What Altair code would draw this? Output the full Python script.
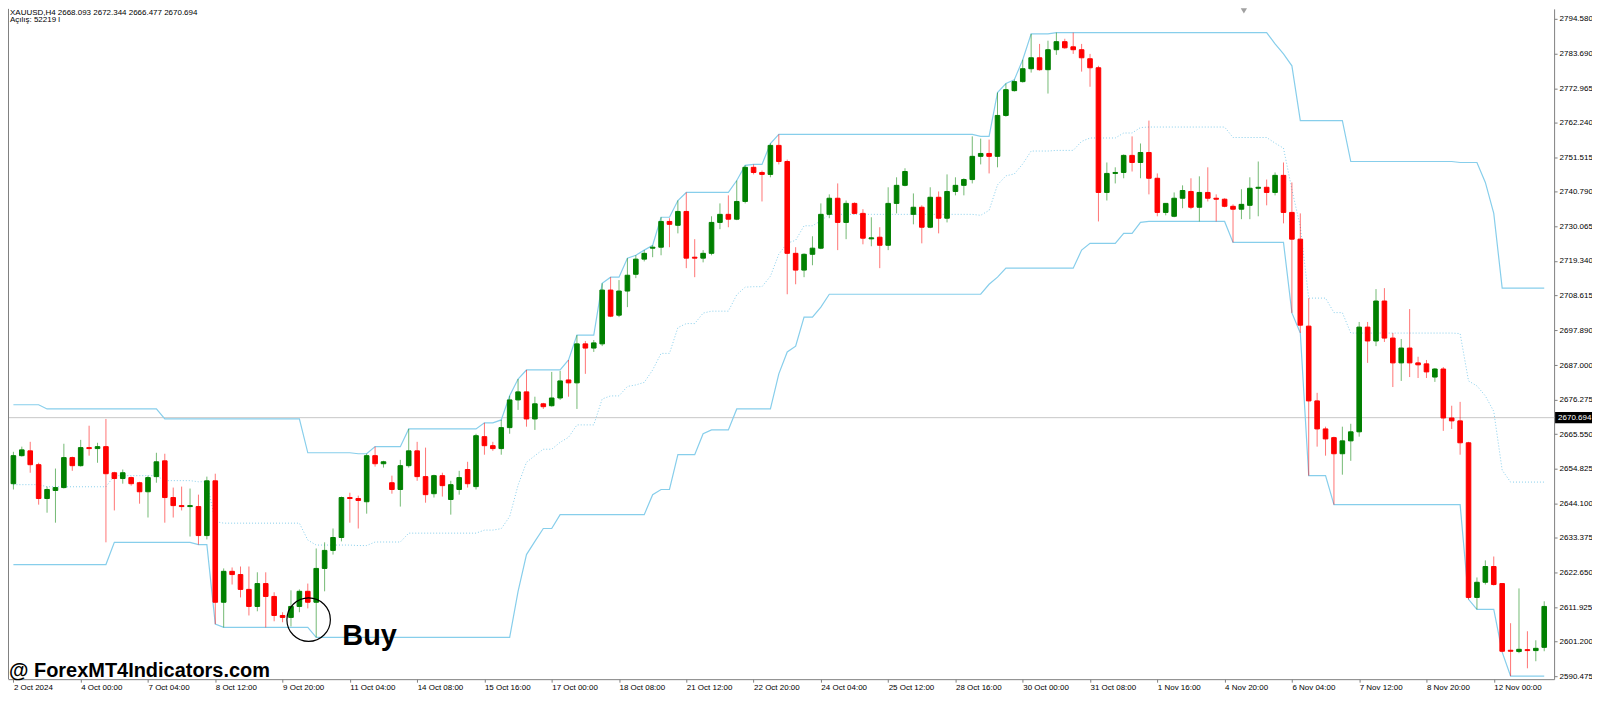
import altair as alt

# ---- candle data (XAUUSD H4), index 0 = 2 Oct 16:00 ----
OPEN = [2650.2, 2658.9, 2660.4, 2656.1, 2645.6, 2648.1, 2649.0, 2658.3, 2655.8, 2661.4,
        2661.1, 2661.7, 2653.6, 2651.8, 2652.1, 2650.5, 2647.7, 2652.4, 2657.3, 2645.9,
        2643.4, 2643.1, 2643.1, 2634.1, 2651.1, 2613.4, 2623.0, 2622.0, 2617.4, 2612.1,
        2619.2, 2615.2, 2609.3, 2608.7, 2612.1, 2616.8, 2613.4, 2623.9, 2629.5, 2633.5,
        2645.9, 2645.6, 2644.6, 2658.9, 2656.4, 2650.5, 2648.4, 2655.8, 2660.4, 2652.4,
        2647.1, 2652.7, 2645.3, 2648.4, 2654.6, 2649.3, 2664.8, 2662.0, 2661.1, 2667.6,
        2676.2, 2678.7, 2670.3, 2675.0, 2674.4, 2676.8, 2682.4, 2681.5, 2693.6, 2692.3,
        2693.6, 2710.3, 2702.5, 2710.0, 2715.2, 2719.9, 2723.3, 2723.6, 2731.6, 2730.4,
        2734.7, 2720.5, 2720.2, 2721.7, 2731.3, 2733.8, 2732.3, 2737.8, 2748.4, 2746.8,
        2746.2, 2755.2, 2750.2, 2721.7, 2716.5, 2721.4, 2723.3, 2733.8, 2738.8, 2731.3,
        2737.2, 2734.1, 2726.2, 2726.7, 2724.2, 2737.2, 2742.8, 2733.8, 2736.0, 2729.8,
        2739.1, 2732.6, 2740.9, 2742.8, 2744.6, 2751.8, 2752.7, 2751.8, 2764.5, 2772.2,
        2775.0, 2779.0, 2782.4, 2778.7, 2784.9, 2787.4, 2785.8, 2784.9, 2782.1, 2779.3,
        2740.6, 2746.5, 2746.8, 2752.1, 2749.9, 2753.0, 2745.0, 2734.4, 2733.2, 2738.8,
        2740.9, 2736.0, 2740.6, 2738.8, 2738.5, 2736.3, 2735.4, 2736.6, 2741.9, 2742.2,
        2740.6, 2745.9, 2734.4, 2726.1, 2699.1, 2675.9, 2667.2, 2664.5, 2659.5, 2663.5,
        2666.3, 2698.8, 2694.5, 2706.9, 2695.4, 2687.7, 2692.3, 2687.7, 2687.4, 2683.3,
        2685.8, 2670.6, 2669.7, 2662.9, 2614.9, 2619.6, 2624.5, 2619.2, 2598.5, 2598.1,
        2598.7, 2598.4, 2599.4]
HIGH = [2660.1, 2661.7, 2663.2, 2656.7, 2649.3, 2654.9, 2662.6, 2658.6, 2663.8, 2668.2,
        2662.9, 2670.3, 2653.9, 2654.6, 2652.4, 2650.8, 2652.7, 2659.8, 2659.5, 2649.0,
        2649.3, 2648.7, 2646.8, 2652.4, 2653.3, 2623.9, 2624.2, 2624.5, 2624.5, 2622.7,
        2622.7, 2616.5, 2610.3, 2617.1, 2617.4, 2619.2, 2630.1, 2632.0, 2636.3, 2646.2,
        2647.4, 2646.5, 2659.5, 2661.7, 2657.3, 2652.7, 2657.6, 2667.2, 2663.2, 2661.4,
        2653.0, 2653.6, 2651.1, 2654.2, 2657.0, 2665.7, 2669.1, 2663.2, 2670.0, 2677.5,
        2682.7, 2685.5, 2677.2, 2675.3, 2684.9, 2685.2, 2688.6, 2696.3, 2694.5, 2694.8,
        2712.4, 2714.3, 2713.4, 2720.2, 2721.1, 2722.7, 2724.2, 2732.9, 2732.6, 2738.1,
        2740.6, 2726.1, 2722.7, 2733.2, 2737.2, 2739.7, 2744.3, 2749.0, 2749.3, 2747.4,
        2755.8, 2758.6, 2750.8, 2723.6, 2721.7, 2727.0, 2737.2, 2740.0, 2743.4, 2738.1,
        2737.5, 2735.4, 2732.9, 2729.8, 2742.2, 2745.3, 2748.1, 2740.3, 2736.6, 2742.2,
        2740.9, 2746.2, 2745.3, 2745.0, 2758.0, 2757.3, 2757.0, 2771.6, 2774.4, 2775.6,
        2781.8, 2789.8, 2786.7, 2787.7, 2790.2, 2788.3, 2790.2, 2786.7, 2783.6, 2779.9,
        2749.9, 2748.4, 2752.4, 2758.0, 2755.8, 2762.9, 2746.5, 2737.2, 2740.6, 2742.8,
        2745.0, 2745.6, 2748.4, 2740.0, 2738.8, 2736.9, 2741.6, 2745.3, 2750.2, 2744.6,
        2746.8, 2749.9, 2743.7, 2734.1, 2707.8, 2678.4, 2667.9, 2664.8, 2667.9, 2668.8,
        2700.4, 2700.4, 2710.6, 2710.9, 2697.0, 2695.1, 2704.4, 2689.6, 2688.6, 2686.1,
        2686.4, 2674.4, 2675.6, 2663.2, 2621.1, 2626.4, 2627.6, 2619.2, 2606.9, 2617.7,
        2604.4, 2601.6, 2613.7]
LOW = [2648.4, 2658.6, 2653.6, 2643.7, 2641.2, 2638.1, 2648.7, 2654.2, 2655.5, 2658.9,
       2656.7, 2632.0, 2641.9, 2650.2, 2649.6, 2644.0, 2639.7, 2650.5, 2638.1, 2639.7,
       2641.9, 2633.8, 2631.3, 2632.9, 2606.6, 2605.6, 2618.9, 2614.9, 2609.3, 2610.6,
       2605.6, 2607.5, 2607.2, 2605.9, 2610.3, 2611.5, 2602.5, 2616.8, 2628.2, 2632.3,
       2638.1, 2636.3, 2640.9, 2655.5, 2655.2, 2647.1, 2643.1, 2655.2, 2651.1, 2644.3,
       2645.9, 2646.2, 2640.6, 2646.8, 2649.0, 2648.4, 2659.2, 2660.4, 2659.2, 2665.7,
       2673.1, 2667.9, 2666.9, 2673.4, 2674.1, 2676.2, 2677.2, 2673.4, 2684.3, 2691.1,
       2692.9, 2701.9, 2701.9, 2705.0, 2714.0, 2719.2, 2720.5, 2721.1, 2723.6, 2727.9,
       2717.1, 2714.3, 2718.9, 2721.1, 2729.2, 2729.8, 2732.0, 2737.2, 2746.2, 2737.8,
       2745.3, 2749.3, 2709.0, 2712.1, 2714.3, 2718.0, 2723.0, 2732.6, 2722.7, 2726.1,
       2733.8, 2724.5, 2723.9, 2717.1, 2722.7, 2734.1, 2742.5, 2730.7, 2724.8, 2729.5,
       2727.9, 2731.3, 2739.7, 2739.7, 2743.4, 2749.3, 2746.5, 2748.4, 2764.1, 2771.9,
       2774.7, 2777.8, 2778.4, 2771.3, 2783.3, 2785.2, 2783.6, 2778.1, 2773.4, 2731.6,
       2738.1, 2743.4, 2745.0, 2747.1, 2745.0, 2740.0, 2733.2, 2733.5, 2732.9, 2735.7,
       2735.4, 2731.6, 2737.8, 2731.6, 2736.0, 2725.1, 2732.3, 2732.3, 2733.2, 2736.6,
       2739.7, 2731.0, 2703.2, 2697.0, 2652.7, 2661.7, 2658.9, 2643.7, 2653.0, 2657.3,
       2664.8, 2687.7, 2692.9, 2694.2, 2680.2, 2682.1, 2683.3, 2683.0, 2683.0, 2681.8,
       2666.6, 2667.2, 2659.2, 2614.3, 2611.2, 2618.9, 2618.6, 2597.9, 2590.5, 2597.6,
       2592.9, 2595.1, 2598.2]
CLOSE = [2658.9, 2660.7, 2656.1, 2645.6, 2648.4, 2649.0, 2658.3, 2655.8, 2661.4, 2661.1,
         2661.7, 2653.3, 2651.8, 2653.6, 2650.2, 2647.7, 2652.1, 2657.0, 2645.9, 2643.4,
         2643.1, 2643.4, 2634.1, 2651.1, 2613.4, 2623.0, 2622.0, 2617.4, 2612.1, 2619.2,
         2615.2, 2609.3, 2608.7, 2612.1, 2616.8, 2613.4, 2623.9, 2629.5, 2633.5, 2645.9,
         2645.6, 2645.0, 2658.9, 2656.4, 2657.0, 2648.4, 2655.8, 2660.4, 2652.4, 2646.8,
         2652.7, 2649.6, 2649.9, 2652.1, 2650.2, 2665.1, 2662.0, 2661.1, 2667.6, 2676.2,
         2678.7, 2670.3, 2675.0, 2674.1, 2676.8, 2682.1, 2681.5, 2693.6, 2692.3, 2693.9,
         2710.3, 2702.2, 2710.0, 2714.9, 2719.9, 2721.7, 2723.6, 2731.6, 2730.7, 2734.7,
         2720.2, 2720.2, 2721.7, 2731.3, 2733.8, 2732.3, 2737.8, 2748.4, 2746.8, 2746.2,
         2755.2, 2750.2, 2721.7, 2716.5, 2721.4, 2723.3, 2733.8, 2738.8, 2731.3, 2737.2,
         2734.1, 2726.4, 2726.5, 2724.2, 2737.2, 2742.8, 2747.1, 2736.0, 2729.8, 2739.1,
         2732.6, 2740.9, 2742.8, 2744.6, 2751.8, 2752.7, 2751.8, 2764.5, 2772.5, 2775.0,
         2779.0, 2782.4, 2778.7, 2784.9, 2787.4, 2785.5, 2784.9, 2782.4, 2779.3, 2740.6,
         2746.5, 2746.8, 2752.1, 2749.9, 2753.0, 2745.0, 2734.4, 2737.2, 2738.8, 2741.2,
         2736.0, 2740.6, 2738.8, 2738.5, 2736.3, 2735.4, 2736.9, 2741.9, 2742.2, 2740.6,
         2745.9, 2734.4, 2726.1, 2699.4, 2675.9, 2667.2, 2664.1, 2659.5, 2663.5, 2666.3,
         2698.8, 2694.5, 2706.9, 2695.4, 2687.7, 2692.3, 2687.7, 2687.1, 2684.9, 2685.8,
         2670.6, 2669.7, 2662.9, 2614.9, 2619.6, 2624.5, 2618.9, 2598.2, 2598.2, 2598.8,
         2598.4, 2599.1, 2612.1]

# channel values carried in from bars before the first visible candle
PRE_HI = [2674.7, 2674.7, 2674.7, 2674.7, 2673.4, 2673.4, 2673.4, 2673.4, 2673.4,
          2673.4, 2673.4, 2673.4, 2673.4, 2673.4, 2673.4, 2673.4, 2673.4, 2673.4]
PRE_LO = [2625.1, 2625.1, 2625.1, 2625.1, 2625.1, 2625.1, 2625.1, 2625.1, 2625.1,
          2625.1, 2625.1, 2625.1]
CHANNEL_PERIOD = 24

X_LABELS = ["2 Oct 2024", "4 Oct 00:00", "7 Oct 04:00", "8 Oct 12:00", "9 Oct 20:00",
            "11 Oct 04:00", "14 Oct 08:00", "15 Oct 16:00", "17 Oct 00:00", "18 Oct 08:00",
            "21 Oct 12:00", "22 Oct 20:00", "24 Oct 04:00", "25 Oct 12:00", "28 Oct 16:00",
            "30 Oct 00:00", "31 Oct 08:00", "1 Nov 16:00", "4 Nov 20:00", "6 Nov 04:00",
            "7 Nov 12:00", "8 Nov 20:00", "12 Nov 00:00"]
X_LABEL_STEP = 8
Y_TICKS = [2794.580, 2783.690, 2772.965, 2762.240, 2751.515, 2740.790, 2730.065,
           2719.340, 2708.615, 2697.890, 2687.000, 2676.275, 2665.550, 2654.825,
           2644.100, 2633.375, 2622.650, 2611.925, 2601.200, 2590.475]
LAST_PRICE = 2670.694
HEADER1 = "XAUUSD,H4  2668.093 2672.344 2666.477 2670.694"
HEADER2 = "Açılış: 52219 l"
WATERMARK = "@ ForexMT4Indicators.com"
BUY_TEXT = "Buy"
BUY_CIRCLE = {"i": 35.1, "p": 2608.0}
BUY_LABEL = {"i": 39.1, "p": 2600.1}

# ---- build table ----
rows = []
for k in range(len(OPEN)):
    rows.append({
        "i": k, "open": OPEN[k], "high": HIGH[k], "low": LOW[k], "close": CLOSE[k],
        "pre_hi": PRE_HI[k] if k < len(PRE_HI) else None,
        "pre_lo": PRE_LO[k] if k < len(PRE_LO) else None,
    })
candles = alt.Data(values=rows)

W, H = 1550, 672
FONT = "Liberation Sans"
GREEN, RED = "#008000", "#FF0000"
CH = "#87CEEB"
AX = "#808080"

xs = alt.Scale(domain=[-0.05, 182.58], nice=False, zero=False)
ys = alt.Scale(domain=[2589.53, 2797.58], nice=False, zero=False)

label_arr = "[" + ",".join("'%s'" % s for s in X_LABELS) + "]"
x_axis = alt.Axis(values=[X_LABEL_STEP * k for k in range(len(X_LABELS))],
                  labelExpr=label_arr + "[round(datum.value/%d)]" % X_LABEL_STEP,
                  title=None, labelAlign="left", labelPadding=1, labelFontSize=8,
                  labelFont=FONT, labelColor="#000000", tickSize=3, tickColor=AX,
                  domainColor=AX, labelOverlap=False, grid=False, labelBound=False)
y_axis = alt.Axis(values=Y_TICKS, format=".3f", orient="right", title=None,
                  labelFontSize=8, labelFont=FONT, labelColor="#000000", tickSize=3,
                  tickColor=AX, domainColor=AX, labelPadding=2,
                  labelOverlap=False, grid=False)


def X(field):
    return alt.X(field, type="quantitative", scale=xs, axis=x_axis)


def Y(field):
    return alt.Y(field, type="quantitative", scale=ys, axis=y_axis)


color = alt.Color("dir:N", scale=alt.Scale(domain=["up", "down"], range=[GREEN, RED]), legend=None)

base = alt.Chart(candles).transform_calculate(
    dir="datum.close >= datum.open ? 'up' : 'down'")

wicks = base.mark_rule(strokeWidth=1, opacity=0.55, clip=True).encode(
    x=X("i"), y=Y("low"), y2="high:Q", color=color)

bodies = base.mark_bar(size=4.6, strokeWidth=1, clip=True, orient="vertical").encode(
    x=X("i"), y=Y("open"), y2="close:Q", color=color, stroke=color)

chan = alt.Chart(candles).transform_window(
    hmax="max(high)", lmin="min(low)", frame=[-(CHANNEL_PERIOD - 1), 0],
    sort=[alt.SortField("i", order="ascending")]
).transform_calculate(
    upper="isValid(datum.pre_hi) ? max(datum.hmax, datum.pre_hi) : datum.hmax"
).transform_calculate(
    lower="isValid(datum.pre_lo) ? min(datum.lmin, datum.pre_lo) : datum.lmin"
).transform_calculate(
    mid="(datum.upper + datum.lower) / 2")

upper_line = chan.mark_line(color=CH, strokeWidth=1.2, clip=True).encode(x=X("i"), y=Y("upper"))
lower_line = chan.mark_line(color=CH, strokeWidth=1.2, clip=True).encode(x=X("i"), y=Y("lower"))
mid_line = chan.mark_line(color=CH, strokeWidth=1, strokeDash=[1, 2], clip=True).encode(
    x=X("i"), y=Y("mid"))

last = alt.Data(values=[{"p": LAST_PRICE}])
last_rule = alt.Chart(last).mark_rule(color="#C8C8C8", strokeWidth=1).encode(y=Y("p"))
price_box = alt.Chart(last).transform_calculate(
    lo="datum.p - 1.75", hi="datum.p + 1.75"
).mark_rect(color="#000000").encode(
    x=alt.value(W + 1), x2=alt.value(W + 38), y=Y("lo"), y2="hi:Q")
price_txt = alt.Chart(last).mark_text(
    align="left", baseline="middle", color="#FFFFFF", fontSize=8, font=FONT
).encode(x=alt.value(W + 4), y=Y("p"), text=alt.Text("p:Q", format=".3f"))

circle = alt.Chart(alt.Data(values=[BUY_CIRCLE])).mark_point(
    shape="circle", size=1900, filled=False, color="#000000", strokeWidth=1.2, opacity=1
).encode(x=X("i"), y=Y("p"))
buy = alt.Chart(alt.Data(values=[BUY_LABEL])).mark_text(
    text=BUY_TEXT, align="left", baseline="alphabetic", fontSize=29,
    fontWeight="bold", font=FONT, color="#000000"
).encode(x=X("i"), y=Y("p"))

one = alt.Data(values=[{"a": 1}])
left_border = alt.Chart(one).mark_rule(color=AX, strokeWidth=1).encode(
    x=alt.value(0.5), y=alt.value(0), y2=alt.value(H))
hdr1 = alt.Chart(one).mark_text(text=HEADER1, align="left", baseline="top",
                                fontSize=8, font=FONT, color="#000000").encode(
    x=alt.value(2), y=alt.value(0))
hdr2 = alt.Chart(one).mark_text(text=HEADER2, align="left", baseline="top",
                                fontSize=8, font=FONT, color="#000000").encode(
    x=alt.value(2), y=alt.value(7))
marker = alt.Chart(one).mark_point(shape="triangle-down", filled=True, color="#A0A0A0",
                                   size=40, opacity=1).encode(
    x=alt.value(1239), y=alt.value(2))
wm = alt.Chart(one).mark_text(text=WATERMARK, align="left", baseline="alphabetic",
                              fontSize=20, fontWeight="bold", font=FONT,
                              color="#000000").encode(
    x=alt.value(1), y=alt.value(H - 2))

chart = alt.layer(
    last_rule, mid_line, upper_line, lower_line, wicks, bodies,
    circle, buy, left_border, hdr1, hdr2, marker, wm, price_box, price_txt
).properties(
    width=W, height=H,
    autosize=alt.AutoSizeParams(type="none"),
    padding={"left": 0, "top": 0, "right": 38, "bottom": 13},
    background="#FFFFFF",
).configure_view(stroke=None)

chart.save("out.html", embed_options={"renderer": "svg", "actions": False})
